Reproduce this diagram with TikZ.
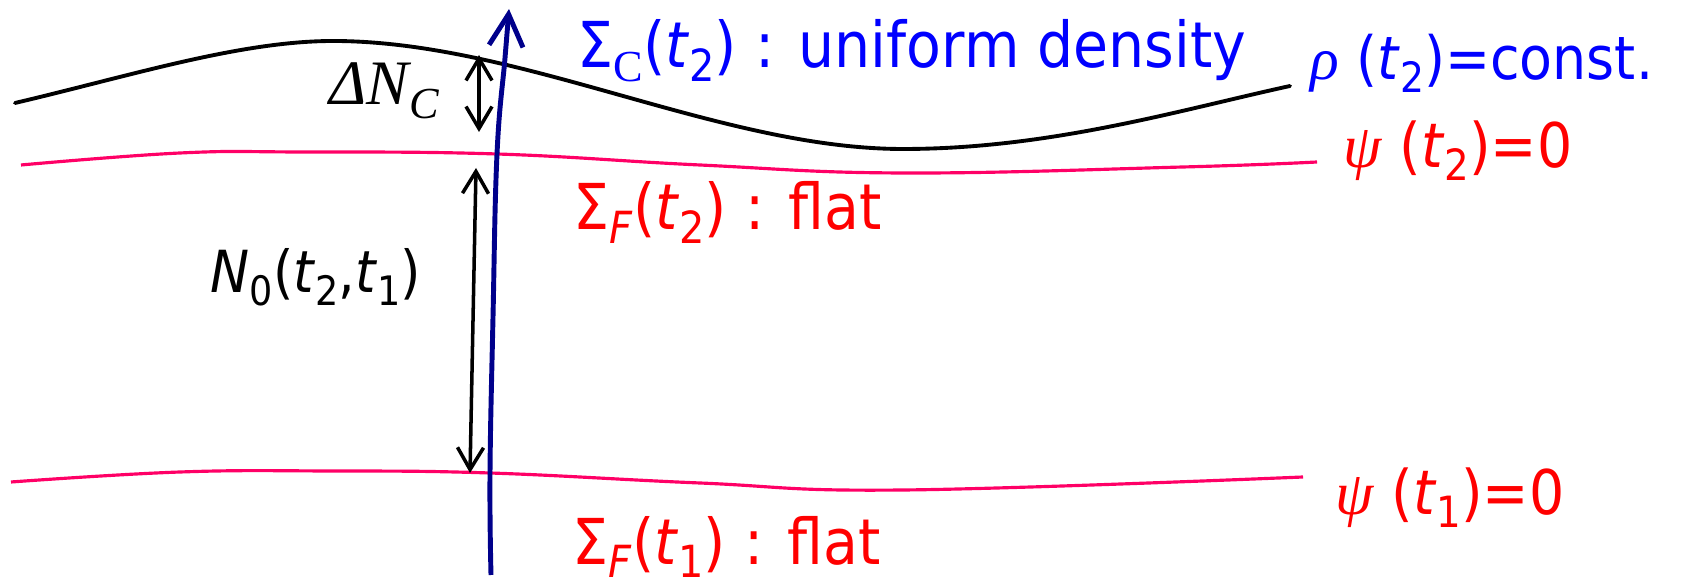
\documentclass[tikz,border=0pt]{standalone}
\usepackage{fontspec}
\setmainfont{DejaVu Sans}[FakeStretch=0.9]
\newfontfamily\timesfont{Liberation Serif}
\usetikzlibrary{arrows.meta}
\definecolor{flatred}{RGB}{255,0,102}
\definecolor{normalblue}{RGB}{0,0,139}
\definecolor{textblue}{RGB}{0,0,255}
\definecolor{textred}{RGB}{255,0,0}
\newcommand{\lowsub}[1]{\raisebox{-0.21em}{\scalebox{0.7}{#1}}}
\newcommand{\gr}[1]{{\timesfont\itshape #1}}

\begin{document}
\begin{tikzpicture}[
    x=0.01cm, y=-0.01cm,
    surface/.style={line width=1.1pt, line cap=round},
    flatslice/.style={line width=0.9pt, color=flatred},
    normalline/.style={line width=1.4pt, color=normalblue, -{Straight Barb[length=0.32cm, width=0.34cm]}},
    gap/.style={line width=1pt, {Straight Barb[length=0.22cm, width=0.26cm]}-{Straight Barb[length=0.22cm, width=0.26cm]}},
    bluelabel/.style={anchor=base west, inner sep=0pt, text=textblue, font=\fontsize{18}{20}\selectfont},
    redlabel/.style={anchor=base west, inner sep=0pt, text=textred, font=\fontsize{18}{20}\selectfont},
    blacklabel/.style={anchor=base west, inner sep=0pt, font=\fontsize{16.5}{19}\selectfont}
]
\useasboundingbox (0,0) rectangle (1686,583);
\draw[surface] (15,103) .. controls (130,76) and (240,41) .. (333,41)
    .. controls (520,41) and (720,149) .. (903,149)
    .. controls (1050,149) and (1180,110) .. (1290,86);
\draw[flatslice] plot[smooth, tension=0.7] coordinates {(21,165) (180,153) (300,152) (497,154) (700,165) (903,173) (1183,167) (1317,162)};
\draw[flatslice] plot[smooth, tension=0.7] coordinates {(11,482) (180,472) (330,471) (490,473) (700,483) (903,490) (1303,477)};
\draw[normalline] plot[smooth, tension=0.7] coordinates {(491,575) (490,473) (493,317) (497,154) (505,58) (509,9)};
\coordinate (dnTop) at (479,55);
\coordinate (dnBot) at (479,132);
\coordinate (nTop) at (476,168);
\coordinate (nBot) at (470,473);
\draw[gap] (dnTop) -- (dnBot);
\draw[gap] (nTop) -- (nBot);
\node[anchor=base west, inner sep=0pt, font=\timesfont\itshape\fontsize{18}{20}\selectfont] (deltaN) at (329,105) {ΔN\lowsub{C}};
\node[blacklabel] (noLabel) at (210,293) {\textit{N}\lowsub{0}(\textit{t}\lowsub{2},\textit{t}\lowsub{1})};
\node[bluelabel] (sigmaC) at (577,68) {Σ\lowsub{\timesfont C}(\textit{t}\lowsub{2}) : uniform density};
\node[bluelabel, font=\fontsize{17}{19}\selectfont] (rhoLabel) at (1310,80) {\gr{ρ} (\textit{t}\lowsub{2})=const.};
\node[redlabel, font=\fontsize{17.5}{19}\selectfont] (psiTwo) at (1343,168) {\gr{ψ} (\textit{t}\lowsub{2})=0};
\node[redlabel] (sigmaFTwo) at (573,230) {Σ\lowsub{\textit{F}}(\textit{t}\lowsub{2}) : flat};
\node[redlabel] (sigmaFOne) at (572,564) {Σ\lowsub{\textit{F}}(\textit{t}\lowsub{1}) : flat};
\node[redlabel, font=\fontsize{17.5}{19}\selectfont] (psiOne) at (1335,515) {\gr{ψ} (\textit{t}\lowsub{1})=0};
\end{tikzpicture}
\end{document}
